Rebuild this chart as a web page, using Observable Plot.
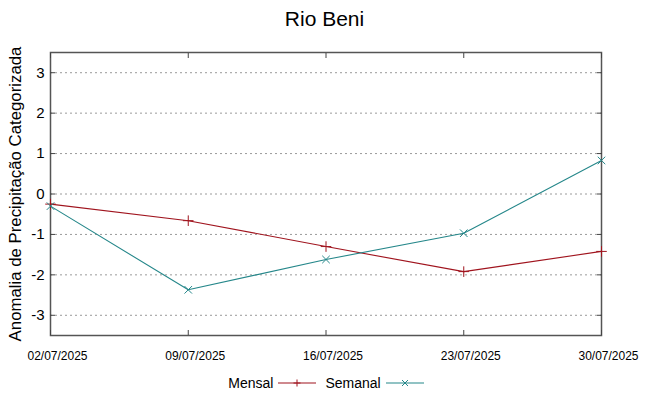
<!DOCTYPE html>
<html>
<head>
<meta charset="utf-8">
<script src="https://cdn.jsdelivr.net/npm/d3@7"></script>
<script src="https://cdn.jsdelivr.net/npm/@observablehq/plot@0.6"></script>
<style>
  body { margin: 0; background: #fff; font-family: "Liberation Sans", Arial, sans-serif; }
  #title { height: 38px; line-height: 38px; text-align: center; font-size: 21px; color: #000; padding-left: 0px; }
  #legend { display: flex; justify-content: center; align-items: center; font-size: 14px; color: #000; height: 24px; margin-left: 4px; margin-top: 1px; }
  #legend span { margin: 0 4px; }
  #legend svg { margin-right: 4px; }
</style>
</head>
<body>
<div id="title">Rio Beni</div>
<div id="chart"></div>
<div id="legend"></div>
<script>
const dates = ["2025-07-02", "2025-07-09", "2025-07-16", "2025-07-23", "2025-07-30"];
const tickLabels = ["02/07/2025", "09/07/2025", "16/07/2025", "23/07/2025", "30/07/2025"];
const mensal = [-0.25, -0.66, -1.30, -1.92, -1.42];
const semanal = [-0.30, -2.37, -1.62, -0.97, 0.83];
const yTicks = [-3, -2, -1, 0, 1, 2, 3];
const seriesNames = ["Mensal", "Semanal"];
const colors = ["#a0141e", "#25878a"];

const parse = d3.utcParse("%Y-%m-%d");
const xDates = dates.map(parse);
const rows = [];
[mensal, semanal].forEach((vals, s) => vals.forEach((v, i) => rows.push({date: xDates[i], value: v, series: seriesNames[s]})));
const labelFor = new Map(xDates.map((d, i) => [+d, tickLabels[i]]));

const plot = Plot.plot({
  width: 649,
  height: 332,
  marginLeft: 50,
  marginRight: 48,
  marginTop: 14,
  marginBottom: 35,
  style: {fontFamily: "Liberation Sans, Arial, sans-serif", fontSize: "15px", color: "#000", background: "#fff"},
  x: {type: "utc", domain: [xDates[0], xDates[xDates.length - 1]]},
  y: {domain: [-3.5, 3.5]},
  color: {domain: seriesNames, range: colors},
  marks: [
    Plot.gridY(yTicks, {stroke: "#9a9a9a", strokeOpacity: 1, strokeDasharray: "2,3", strokeWidth: 1}),
    Plot.frame({stroke: "#555", strokeWidth: 1.5}),
    Plot.axisY(yTicks, {anchor: "left", tickSize: 5, dx: 5, text: null, label: null, stroke: "#444"}),
    Plot.axisY(yTicks, {anchor: "right", tickSize: 5, dx: -5, text: null, label: null, stroke: "#444"}),
    Plot.axisY(yTicks, {anchor: "left", tickSize: 0, tickPadding: 6, tickFormat: d => String(d), label: null, fontSize: 15}),
    Plot.axisY(yTicks, {anchor: "left", tickSize: 0, text: null, label: "Anomalia de Precipitação Categorizada", labelAnchor: "center", labelArrow: "none", labelOffset: 41, fontSize: 16.8}),
    Plot.axisX(xDates, {anchor: "bottom", tickSize: 5, dy: -5, text: null, label: null, stroke: "#444"}),
    Plot.axisX(xDates, {anchor: "top", tickSize: 5, dy: 5, text: null, label: null, stroke: "#444"}),
    Plot.axisX(xDates, {anchor: "bottom", tickSize: 0, tickPadding: 14, dx: 7, dy: 2, tickFormat: d => labelFor.get(+d), label: null, fontSize: 12}),
    Plot.line(rows, {x: "date", y: "value", z: "series", stroke: "series", strokeWidth: 1.1}),
    Plot.dot(rows.filter(r => r.series === "Mensal"), {x: "date", y: "value", symbol: "plus", stroke: colors[0], r: 3.5, strokeWidth: 1}),
    Plot.dot(rows.filter(r => r.series === "Semanal"), {x: "date", y: "value", symbol: "times", stroke: colors[1], r: 3.5, strokeWidth: 1})
  ]
});
document.getElementById("chart").appendChild(plot);

// legend
const legend = document.getElementById("legend");
seriesNames.forEach((name, i) => {
  const label = document.createElement("span");
  label.textContent = name;
  legend.appendChild(label);
  const ns = "http://www.w3.org/2000/svg";
  const svg = document.createElementNS(ns, "svg");
  svg.setAttribute("width", 40); svg.setAttribute("height", 14);
  const line = document.createElementNS(ns, "line");
  line.setAttribute("x1", 1); line.setAttribute("x2", 39); line.setAttribute("y1", 7); line.setAttribute("y2", 7);
  line.setAttribute("stroke", colors[i]); line.setAttribute("stroke-width", 1.1);
  svg.appendChild(line);
  const p = document.createElementNS(ns, "path");
  p.setAttribute("d", i === 0 ? "M16.5,7h7M20,3.5v7" : "M17,4l6,6M23,4l-6,6");
  p.setAttribute("stroke", colors[i]); p.setAttribute("fill", "none");
  svg.appendChild(p);
  legend.appendChild(svg);
});
</script>
</body>
</html>
